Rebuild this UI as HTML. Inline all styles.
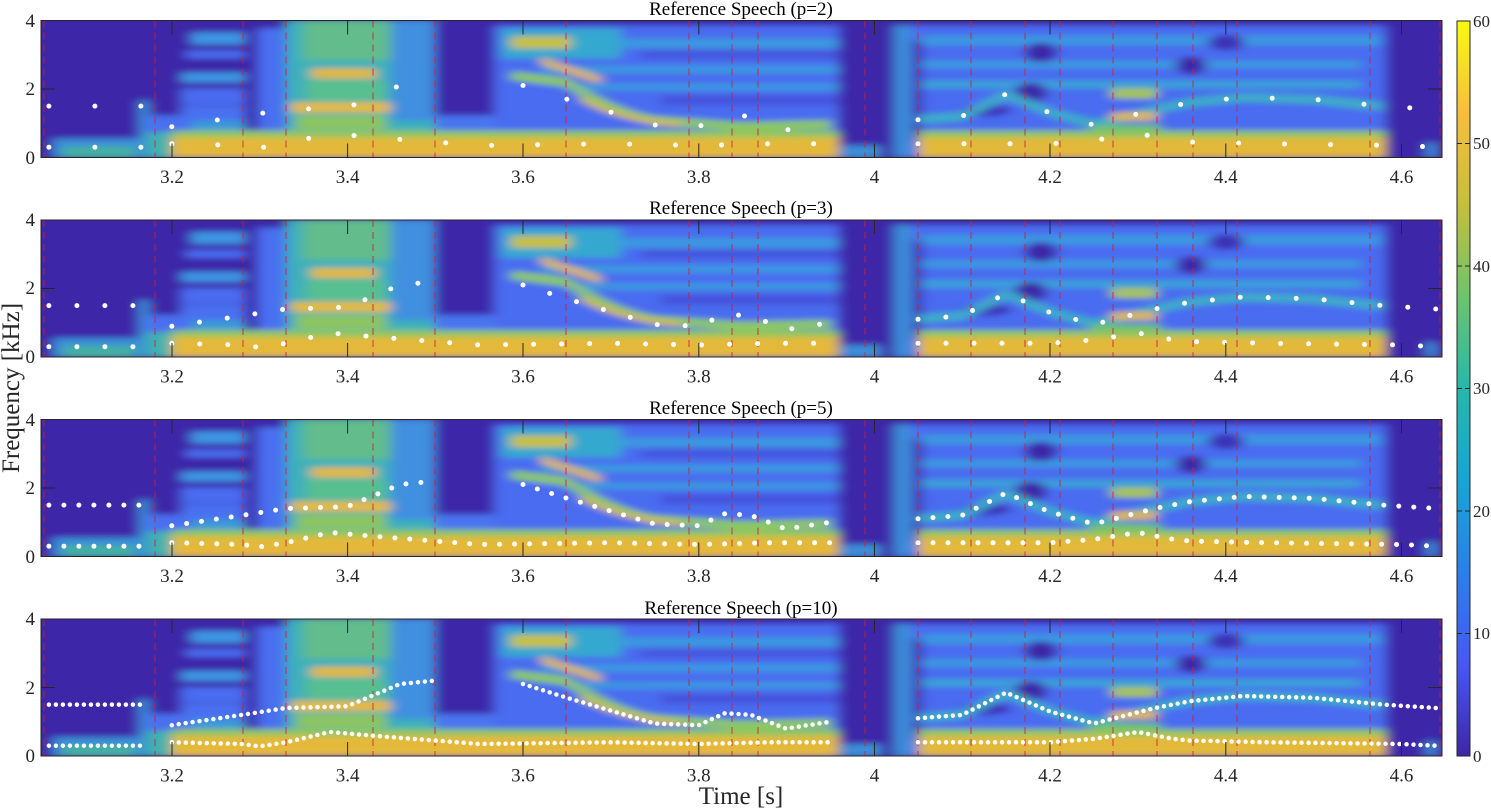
<!DOCTYPE html>
<html><head><meta charset="utf-8"><style>
html,body{margin:0;padding:0;background:#fff;}
svg{display:block;font-family:"Liberation Serif",serif;}
</style></head><body>
<svg width="1491" height="810" viewBox="0 0 1491 810" xmlns="http://www.w3.org/2000/svg">
<defs>
<filter id="bl" x="-5%" y="-20%" width="110%" height="140%"><feGaussianBlur stdDeviation="6 3"/></filter>
<clipPath id="cp"><rect x="0" y="0" width="1401" height="137"/></clipPath>
<linearGradient id="cb" x1="0" y1="1" x2="0" y2="0">
<stop offset="0" stop-color="#3e26a8"/><stop offset="0.125" stop-color="#4757f7"/><stop offset="0.25" stop-color="#2a80ea"/>
<stop offset="0.375" stop-color="#16a5d6"/><stop offset="0.5" stop-color="#25b8aa"/><stop offset="0.625" stop-color="#6cc46c"/>
<stop offset="0.75" stop-color="#c6bf3a"/><stop offset="0.875" stop-color="#f8bd3c"/><stop offset="1" stop-color="#f9fb0e"/>
</linearGradient>
<g id="spec">
<rect x="-30" y="-30" width="1461" height="197" fill="#3e26a8"/>
<rect x="12" y="118" width="88" height="19" fill="#3a8fd8"/>
<rect x="22" y="126" width="72" height="11" fill="#45b0a0"/>
<rect x="98" y="80" width="10" height="57" fill="#3a8fd8"/>
<rect x="105" y="95" width="693" height="42" fill="#4a70f0"/>
<rect x="140" y="85" width="65" height="15" fill="#4a70f0"/>
<rect x="150" y="12" width="55" height="12" fill="#3d95e4"/>
<rect x="145" y="30" width="60" height="8" fill="#4a6cf0"/>
<rect x="140" y="52" width="65" height="10" fill="#3d95e4"/>
<rect x="140" y="68" width="65" height="16" fill="#4a6cf0"/>
<rect x="150" y="100" width="55" height="15" fill="#3a9ad8"/>
<rect x="217" y="8" width="30" height="129" fill="#4a70f0"/>
<rect x="204" y="0" width="13" height="115" fill="#3e26a8"/>
<rect x="245" y="0" width="149" height="137" fill="#3cb0bc"/>
<rect x="262" y="0" width="110" height="40" fill="#62bc8c"/>
<rect x="350" y="0" width="44" height="100" fill="#3f8fe0"/>
<rect x="265" y="60" width="80" height="20" fill="#58bf90"/>
<rect x="270" y="48" width="65" height="10" fill="#e3b838"/>
<rect x="250" y="82" width="100" height="10" fill="#e6b936"/>
<rect x="255" y="95" width="90" height="14" fill="#8cc560"/>
<rect x="265" y="110" width="85" height="8" fill="#e2b93a"/>
<rect x="394" y="95" width="59" height="42" fill="#4a74f0"/>
<rect x="453" y="5" width="345" height="132" fill="#4a6cf0"/>
<rect x="460" y="8" width="120" height="30" fill="#35a8d0"/>
<rect x="470" y="16" width="60" height="12" fill="#c8c040"/>
<rect x="580" y="18" width="218" height="10" fill="#3a98e0"/>
<rect x="500" y="45" width="298" height="8" fill="#3a98e0"/>
<rect x="540" y="63" width="258" height="7" fill="#3a98e0"/>
<rect x="600" y="30" width="198" height="8" fill="#4454dc"/>
<rect x="620" y="75" width="178" height="10" fill="#4454dc"/>
<path d="M470,55 L526,62 Q570,92 613,100 L700,106 L790,104" stroke="#8cc860" stroke-width="9" fill="none"/>
<path d="M500,40 L530,50 L560,60" stroke="#e0b840" stroke-width="7" fill="none"/>
<path d="M540,78 Q580,100 640,104" stroke="#d8bc40" stroke-width="5" fill="none"/>
<rect x="130" y="110" width="668" height="8" fill="#8fc660"/>
<rect x="130" y="117" width="668" height="20" fill="#e4b93a"/>
<rect x="105" y="112" width="25" height="25" fill="#40b0b0"/>
<rect x="800" y="125" width="40" height="12" fill="#3a8fd8"/>
<rect x="853" y="5" width="492" height="132" fill="#4a6cf0"/>
<rect x="853" y="5" width="17" height="132" fill="#3a8fd8"/>
<rect x="872" y="20" width="9" height="100" fill="#3e26a8"/>
<rect x="880" y="15" width="460" height="10" fill="#3a98e0"/>
<rect x="880" y="40" width="440" height="8" fill="#3a98e0"/>
<rect x="880" y="60" width="440" height="8" fill="#3aa0d8"/>
<ellipse cx="1000" cy="32" rx="16" ry="10" fill="#3e26a8"/>
<ellipse cx="990" cy="72" rx="16" ry="10" fill="#3e26a8"/>
<ellipse cx="1150" cy="45" rx="15" ry="9" fill="#3e26a8"/>
<ellipse cx="1185" cy="22" rx="18" ry="8" fill="#3e30b8"/>
<ellipse cx="945" cy="90" rx="25" ry="6" fill="#3e30b8"/>
<path d="M877,99 L921,96 L965,74 L1009,92 L1053,104 L1114,89 L1149,82 L1202,77 L1272,79 L1342,86" stroke="#3dacc8" stroke-width="9" fill="none"/>
<rect x="1070" y="92" width="46" height="8" fill="#e0b83a"/>
<rect x="1070" y="68" width="46" height="10" fill="#a8c450"/>
<rect x="1050" y="104" width="70" height="6" fill="#70c070"/>
<rect x="877" y="110" width="468" height="8" fill="#8fc660"/>
<rect x="877" y="117" width="468" height="20" fill="#e2b93a"/>
<rect x="1385" y="122" width="10" height="15" fill="#3a8fd8"/>
</g>
<g id="redl" stroke="#c8203c" stroke-width="1" stroke-dasharray="7 5" opacity="0.85">
<path d="M3,0V137M114,0V137M202,0V137M245,0V137M332,0V137M394,0V137M525,0V137M648,0V137M691,0V137M717,0V137M824,0V137M877,0V137M930,0V137M984,0V137M1019,0V137M1072,0V137M1116,0V137M1152,0V137M1196,0V137M1329,0V137M1399,0V137"/>
</g>
<g id="axes" fill="none" stroke="#262626" stroke-width="1">
<rect x="0" y="0" width="1401" height="137"/>
<path d="M131,0v14M306.6,0v14M482,0v14M657.8,0v14M833.5,0v14M1009,0v14M1184.8,0v14M1360.5,0v14M131,137v-14M306.6,137v-14M482,137v-14M657.8,137v-14M833.5,137v-14M1009,137v-14M1184.8,137v-14M1360.5,137v-14M0,68.5h14M1401,68.5h-14"/>
</g>
<path id="f1" d="M7.9,126.7 L104.5,126.7 M130.8,123.3 L201,125 L218.6,127.4 L245,123.3 L289,113 L350,118.2 L438.6,125 L570,123.3 L657.6,125 L728,123.3 L789,123.3 M877,123.3 L1009,123.3 L1053,119.9 L1097,113 L1132,119.9 L1149,121.6 L1228,123.3 L1360,125 L1395,126.7"/>
<path id="f2" d="M7.9,85.6 L104.5,85.6 M130.8,106.2 L201,95.9 L245,89 L306,87.3 L359,65 L394,61.6 M482,65 L526,78.8 L613.7,104.5 L657.6,106.2 L684,94.2 L710,95.9 L745,109.6 L789,102.8 M877,99.3 L921,95.9 L965,73.6 L1009,92.5 L1053,104.5 L1114,89 L1149,82.2 L1202,77 L1272,78.8 L1342,85.6 L1395,89"/>
</defs>

<g font-size="19" fill="#000" text-anchor="middle">
<text x="741" y="15">Reference Speech (p=2)</text>
<text x="741" y="214">Reference Speech (p=3)</text>
<text x="741" y="414">Reference Speech (p=5)</text>
<text x="741" y="614">Reference Speech (p=10)</text>
</g>

<g transform="translate(41,20.5)">
<g clip-path="url(#cp)"><use href="#spec" filter="url(#bl)"/></g>
<use href="#redl"/>
<g stroke="#fff" stroke-width="5" stroke-linecap="round" fill="none" stroke-dasharray="0 46"><use href="#f1"/><use href="#f2"/></g>
<use href="#axes"/>
</g>
<g transform="translate(41,220)">
<g clip-path="url(#cp)"><use href="#spec" filter="url(#bl)"/></g>
<use href="#redl"/>
<g stroke="#fff" stroke-width="5" stroke-linecap="round" fill="none" stroke-dasharray="0 28"><use href="#f1"/><use href="#f2"/></g>
<use href="#axes"/>
</g>
<g transform="translate(41,419.5)">
<g clip-path="url(#cp)"><use href="#spec" filter="url(#bl)"/></g>
<use href="#redl"/>
<g stroke="#fff" stroke-width="5" stroke-linecap="round" fill="none" stroke-dasharray="0 15"><use href="#f1"/><use href="#f2"/></g>
<use href="#axes"/>
</g>
<g transform="translate(41,619)">
<g clip-path="url(#cp)"><use href="#spec" filter="url(#bl)"/></g>
<use href="#redl"/>
<g stroke="#fff" stroke-width="4.5" stroke-linecap="round" fill="none" stroke-dasharray="0 7"><use href="#f1"/><use href="#f2"/></g>
<use href="#axes"/>
</g>

<g font-size="19" fill="#262626" text-anchor="end">
<text x="35" y="27">4</text><text x="35" y="95">2</text><text x="35" y="164">0</text>
<text x="35" y="226">4</text><text x="35" y="294">2</text><text x="35" y="363">0</text>
<text x="35" y="426">4</text><text x="35" y="494">2</text><text x="35" y="563">0</text>
<text x="35" y="625">4</text><text x="35" y="694">2</text><text x="35" y="762">0</text>
</g>
<g font-size="19" fill="#262626" text-anchor="middle">
<g id="xl">
<text x="172" y="183">3.2</text><text x="347.6" y="183">3.4</text><text x="523" y="183">3.6</text><text x="698.8" y="183">3.8</text>
<text x="874.5" y="183">4</text><text x="1050" y="183">4.2</text><text x="1225.8" y="183">4.4</text><text x="1401.5" y="183">4.6</text>
</g>
<use href="#xl" transform="translate(0,199.5)"/>
<use href="#xl" transform="translate(0,399)"/>
<use href="#xl" transform="translate(0,598.5)"/>
</g>
<text x="741" y="804" font-size="25" fill="#262626" text-anchor="middle">Time [s]</text>
<text transform="translate(19,388) rotate(-90)" font-size="25" fill="#262626" text-anchor="middle">Frequency [kHz]</text>

<rect x="1457" y="21" width="13" height="735" fill="url(#cb)" stroke="#262626" stroke-width="1"/>
<g stroke="#262626" stroke-width="1">
<path d="M1457,143.5h5M1457,266h5M1457,388.5h5M1457,511h5M1457,633.5h5M1470,143.5h-5M1470,266h-5M1470,388.5h-5M1470,511h-5M1470,633.5h-5"/>
</g>
<g font-size="17" fill="#262626">
<text x="1473" y="27">60</text><text x="1473" y="149">50</text><text x="1473" y="272">40</text>
<text x="1473" y="394">30</text><text x="1473" y="517">20</text><text x="1473" y="639">10</text><text x="1473" y="762">0</text>
</g>
</svg>
</body></html>
